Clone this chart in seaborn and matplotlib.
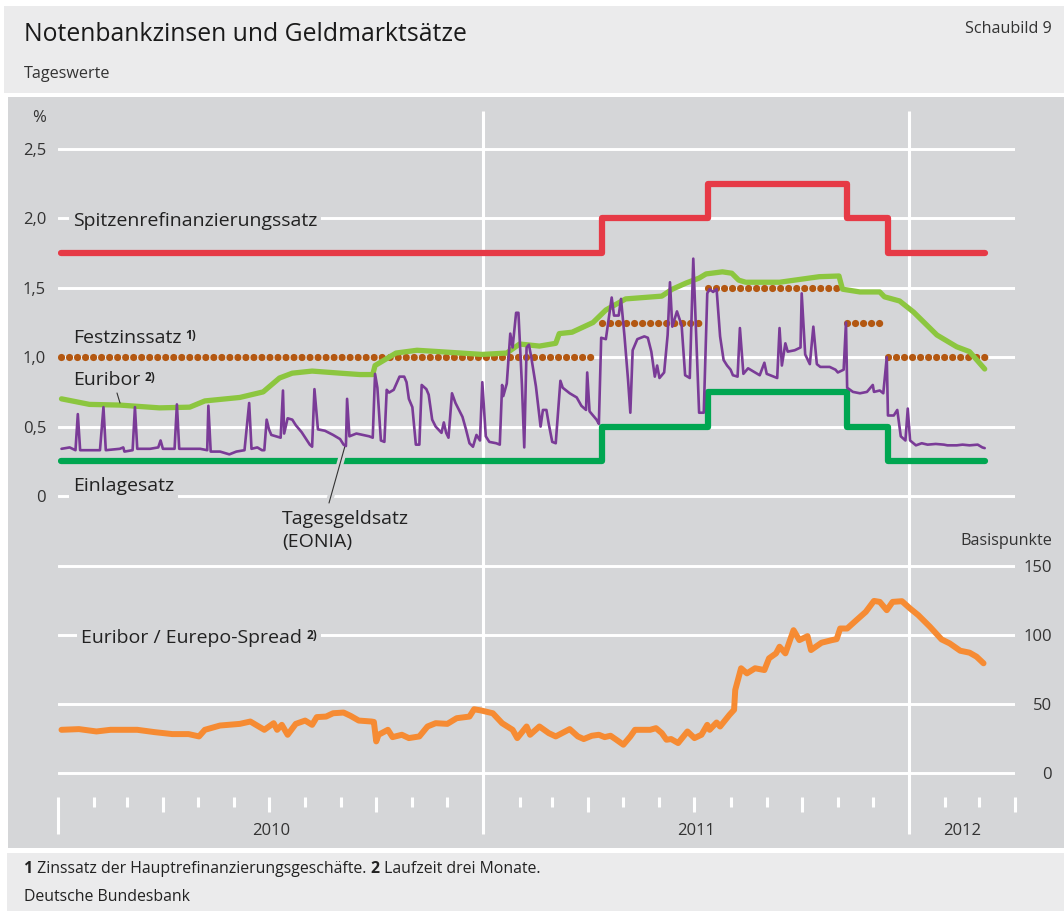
import pandas as pd
import seaborn as sns
import matplotlib.pyplot as plt
import matplotlib.dates as mdates
import matplotlib.patheffects as pe
from matplotlib.patches import Rectangle
from matplotlib.transforms import blended_transform_factory

# ECB policy rates (change dates, % p.a.)
policy_dates = ['2010-01-04', '2011-04-13', '2011-07-13', '2011-11-09', '2011-12-14', '2012-03-06']
spitzen = [1.75, 2.00, 2.25, 2.00, 1.75, 1.75]
einlage = [0.25, 0.50, 0.75, 0.50, 0.25, 0.25]
festzins = [1.00, 1.25, 1.50, 1.25, 1.00, 1.00]

# 3-month Euribor
euribor_dates = ['2010-01-04', '2010-01-28', '2010-02-23', '2010-03-29', '2010-04-24', '2010-05-07',
                 '2010-06-06', '2010-06-26', '2010-07-10', '2010-07-21', '2010-08-07', '2010-08-31',
                 '2010-09-17', '2010-09-28', '2010-09-30', '2010-10-18', '2010-11-05', '2010-11-24',
                 '2010-12-31', '2011-01-21', '2011-02-01', '2011-02-18', '2011-03-04', '2011-03-07',
                 '2011-03-18', '2011-04-05', '2011-04-16', '2011-05-03', '2011-06-03', '2011-06-12',
                 '2011-06-24', '2011-07-05', '2011-07-11', '2011-07-25', '2011-08-02', '2011-08-08',
                 '2011-08-14', '2011-09-12', '2011-09-29', '2011-10-16', '2011-11-02', '2011-11-05',
                 '2011-11-20', '2011-12-07', '2011-12-11', '2011-12-24', '2012-01-05', '2012-01-25',
                 '2012-02-11', '2012-02-22', '2012-03-06']
euribor = [0.70, 0.66, 0.655, 0.635, 0.64, 0.685,
           0.71, 0.75, 0.85, 0.885, 0.90, 0.885,
           0.875, 0.875, 0.94, 1.03, 1.05, 1.04,
           1.02, 1.03, 1.095, 1.08, 1.10, 1.17,
           1.18, 1.25, 1.34, 1.42, 1.44, 1.49,
           1.535, 1.57, 1.60, 1.615, 1.605, 1.555,
           1.54, 1.54, 1.56, 1.58, 1.585, 1.49,
           1.47, 1.47, 1.435, 1.405, 1.325, 1.16,
           1.075, 1.04, 0.915]

# EONIA overnight rate
eonia_dates = ['2010-01-04', '2010-01-11', '2010-01-16', '2010-01-18', '2010-01-20', '2010-02-06',
               '2010-02-09', '2010-02-11', '2010-02-23', '2010-02-26', '2010-02-27', '2010-03-06',
               '2010-03-08', '2010-03-10', '2010-03-21', '2010-03-28', '2010-03-30', '2010-04-01',
               '2010-04-11', '2010-04-13', '2010-04-15', '2010-05-03', '2010-05-09', '2010-05-10',
               '2010-05-12', '2010-05-20', '2010-05-28', '2010-06-03', '2010-06-10', '2010-06-14',
               '2010-06-16', '2010-06-21', '2010-06-25', '2010-06-27', '2010-06-29', '2010-07-01',
               '2010-07-03', '2010-07-07', '2010-07-11', '2010-07-13', '2010-07-14', '2010-07-17',
               '2010-07-21', '2010-07-24', '2010-07-29', '2010-08-05', '2010-08-07', '2010-08-09',
               '2010-08-12', '2010-08-18', '2010-08-25', '2010-08-31', '2010-09-03', '2010-09-05',
               '2010-09-06', '2010-09-08', '2010-09-14', '2010-09-25', '2010-09-28', '2010-09-30',
               '2010-10-02', '2010-10-05', '2010-10-08', '2010-10-10', '2010-10-12', '2010-10-16',
               '2010-10-21', '2010-10-25', '2010-10-27', '2010-10-29', '2010-11-01', '2010-11-04',
               '2010-11-07', '2010-11-09', '2010-11-13', '2010-11-15', '2010-11-18', '2010-11-21',
               '2010-11-26', '2010-11-28', '2010-11-30', '2010-12-02', '2010-12-05', '2010-12-08',
               '2010-12-14', '2010-12-17', '2010-12-20', '2010-12-23', '2010-12-26', '2010-12-29',
               '2010-12-31', '2011-01-03', '2011-01-06', '2011-01-12', '2011-01-15', '2011-01-17',
               '2011-01-18', '2011-01-21', '2011-01-24', '2011-01-26', '2011-01-29', '2011-01-31',
               '2011-02-03', '2011-02-05', '2011-02-07', '2011-02-09', '2011-02-11', '2011-02-15',
               '2011-02-19', '2011-02-21', '2011-02-24', '2011-02-26', '2011-03-01', '2011-03-04',
               '2011-03-08', '2011-03-10', '2011-03-16', '2011-03-22', '2011-03-26', '2011-03-30',
               '2011-03-31', '2011-04-02', '2011-04-08', '2011-04-10', '2011-04-12', '2011-04-16',
               '2011-04-21', '2011-04-23', '2011-04-27', '2011-04-29', '2011-05-02', '2011-05-05',
               '2011-05-07', '2011-05-09', '2011-05-13', '2011-05-19', '2011-05-22', '2011-05-25',
               '2011-05-28', '2011-05-30', '2011-06-01', '2011-06-05', '2011-06-08', '2011-06-10',
               '2011-06-12', '2011-06-16', '2011-06-20', '2011-06-23', '2011-06-27', '2011-06-30',
               '2011-07-03', '2011-07-05', '2011-07-09', '2011-07-12', '2011-07-14', '2011-07-17',
               '2011-07-20', '2011-07-23', '2011-07-26', '2011-07-29', '2011-08-01', '2011-08-03',
               '2011-08-07', '2011-08-09', '2011-08-12', '2011-08-16', '2011-08-20', '2011-08-26',
               '2011-08-30', '2011-09-01', '2011-09-10', '2011-09-12', '2011-09-14', '2011-09-17',
               '2011-09-19', '2011-09-25', '2011-09-30', '2011-10-01', '2011-10-04', '2011-10-08',
               '2011-10-11', '2011-10-14', '2011-10-17', '2011-10-25', '2011-10-30', '2011-11-01',
               '2011-11-06', '2011-11-08', '2011-11-09', '2011-11-14', '2011-11-20', '2011-11-26',
               '2011-12-01', '2011-12-02', '2011-12-07', '2011-12-10', '2011-12-13', '2011-12-14',
               '2011-12-19', '2011-12-22', '2011-12-25', '2011-12-29', '2011-12-31', '2012-01-02',
               '2012-01-07', '2012-01-12', '2012-01-17', '2012-01-24', '2012-01-31', '2012-02-03',
               '2012-02-11', '2012-02-16', '2012-02-22', '2012-02-29', '2012-03-04', '2012-03-06']
eonia = [0.34, 0.35, 0.33, 0.59, 0.33, 0.33,
         0.64, 0.33, 0.34, 0.35, 0.32, 0.33,
         0.64, 0.34, 0.34, 0.35, 0.40, 0.34,
         0.34, 0.66, 0.34, 0.34, 0.33, 0.65,
         0.32, 0.32, 0.30, 0.32, 0.33, 0.67,
         0.34, 0.35, 0.33, 0.33, 0.55, 0.48,
         0.44, 0.43, 0.42, 0.76, 0.45, 0.56,
         0.55, 0.51, 0.46, 0.37, 0.355, 0.77,
         0.48, 0.47, 0.44, 0.41, 0.37, 0.36,
         0.70, 0.43, 0.45, 0.43, 0.42, 0.88,
         0.78, 0.40, 0.39, 0.765, 0.745, 0.765,
         0.86, 0.86, 0.82, 0.70, 0.64, 0.37,
         0.37, 0.80, 0.77, 0.73, 0.55, 0.50,
         0.455, 0.53, 0.455, 0.42, 0.74, 0.67,
         0.57, 0.48, 0.38, 0.355, 0.44, 0.40,
         0.82, 0.43, 0.39, 0.38, 0.37, 0.80,
         0.72, 0.81, 1.17, 1.07, 1.32, 1.32,
         0.80, 0.35, 1.07, 1.09, 1.00, 0.79,
         0.50, 0.62, 0.62, 0.52, 0.39, 0.38,
         0.83, 0.78, 0.74, 0.71, 0.65, 0.62,
         0.89, 0.61, 0.55, 0.52, 1.14, 1.13,
         1.43, 1.30, 1.30, 1.42, 1.15, 0.84,
         0.60, 1.05, 1.13, 1.15, 1.14, 1.04,
         0.86, 0.94, 0.85, 0.89, 1.16, 1.54,
         1.22, 1.33, 1.23, 0.87, 0.85, 1.71,
         1.05, 0.60, 0.60, 1.46, 1.49, 1.47,
         1.49, 1.15, 0.98, 0.94, 0.91, 0.87,
         0.86, 1.21, 0.88, 0.92, 0.90, 0.87,
         0.96, 0.88, 0.85, 1.21, 0.94, 1.10,
         1.04, 1.05, 1.07, 1.46, 1.02, 0.95,
         1.22, 0.95, 0.93, 0.93, 0.91, 0.89,
         0.91, 1.25, 0.78, 0.75, 0.74, 0.75,
         0.80, 0.75, 0.76, 0.74, 1.00, 0.58,
         0.58, 0.62, 0.43, 0.40, 0.63, 0.40,
         0.365, 0.38, 0.37, 0.375, 0.37, 0.365,
         0.365, 0.37, 0.365, 0.37, 0.35, 0.345]

# Euribor/Eurepo spread (3 months), basis points
spread_dates = ['2010-01-04', '2010-01-19', '2010-02-03', '2010-02-15', '2010-03-10', '2010-03-25',
                '2010-04-09', '2010-04-23', '2010-05-02', '2010-05-07', '2010-05-20', '2010-06-06',
                '2010-06-15', '2010-06-27', '2010-07-05', '2010-07-08', '2010-07-12', '2010-07-17',
                '2010-07-24', '2010-08-01', '2010-08-07', '2010-08-11', '2010-08-19', '2010-08-25',
                '2010-09-03', '2010-09-09', '2010-09-16', '2010-09-27', '2010-09-29', '2010-10-01',
                '2010-10-03', '2010-10-11', '2010-10-15', '2010-10-23', '2010-10-29', '2010-11-07',
                '2010-11-14', '2010-11-21', '2010-12-01', '2010-12-09', '2010-12-20', '2010-12-24',
                '2010-12-30', '2011-01-09', '2011-01-17', '2011-01-26', '2011-01-30', '2011-02-07',
                '2011-02-10', '2011-02-18', '2011-02-26', '2011-03-04', '2011-03-16', '2011-03-23',
                '2011-03-28', '2011-04-04', '2011-04-10', '2011-04-15', '2011-04-20', '2011-04-25',
                '2011-05-01', '2011-05-07', '2011-05-11', '2011-05-24', '2011-05-29', '2011-06-03',
                '2011-06-07', '2011-06-11', '2011-06-17', '2011-06-25', '2011-07-01', '2011-07-07',
                '2011-07-12', '2011-07-14', '2011-07-20', '2011-07-23', '2011-07-31', '2011-08-04',
                '2011-08-05', '2011-08-10', '2011-08-15', '2011-08-22', '2011-08-30', '2011-09-03',
                '2011-09-09', '2011-09-12', '2011-09-17', '2011-09-24', '2011-09-29', '2011-10-06',
                '2011-10-09', '2011-10-18', '2011-10-27', '2011-10-31', '2011-11-03', '2011-11-09',
                '2011-11-17', '2011-11-25', '2011-12-02', '2011-12-07', '2011-12-13', '2011-12-18',
                '2011-12-26', '2012-01-02', '2012-01-09', '2012-01-19', '2012-01-29', '2012-02-05',
                '2012-02-14', '2012-02-22', '2012-02-28', '2012-03-05']
spread = [31.3, 31.8, 30.1, 31.3, 31.3, 29.6,
          28.2, 28.2, 26.5, 31.3, 34.4, 35.6,
          37.3, 31.3, 36.1, 31.3, 34.9, 27.7,
          35.6, 38.0, 34.9, 40.5, 40.9, 43.3,
          43.8, 41.4, 38.0, 37.3, 37.0, 22.9,
          27.7, 31.3, 26.0, 27.7, 25.3, 26.5,
          33.7, 36.1, 35.6, 39.7, 40.9, 46.2,
          45.3, 43.3, 36.1, 31.3, 25.3, 33.7,
          27.7, 33.7, 28.9, 26.5, 31.8, 26.5,
          24.6, 27.0, 27.7, 26.0, 27.0, 24.1,
          20.5, 26.5, 31.3, 31.3, 32.5, 28.9,
          24.1, 24.6, 21.7, 30.1, 25.3, 27.7,
          34.9, 31.3, 36.6, 33.7, 42.1, 45.8,
          60.2, 75.9, 72.2, 75.9, 74.6, 83.1,
          86.7, 91.5, 86.7, 103.5, 96.3, 99.2,
          89.1, 94.4, 96.3, 97.0, 104.7, 104.7,
          110.8, 116.8, 124.7, 124.0, 118.0, 124.0,
          124.5, 119.2, 114.4, 106.0, 96.8, 93.9,
          88.6, 87.2, 84.3, 79.5]

rate_ticks = [0, 0.5, 1.0, 1.5, 2.0, 2.5]
rate_labels = ['0', '0,5', '1,0', '1,5', '2,0', '2,5']
bp_ticks = [0, 50, 100, 150]
bp_labels = ['0', '50', '100', '150']
years = [2010, 2011, 2012]

PANEL = '#d5d6d8'
LIGHT = '#ebebec'
TXT = '#222222'
W, H = 1064, 915
X0, X1 = pd.Timestamp('2010-01-01'), pd.Timestamp('2012-04-01')
LEFT, RIGHT = 58, 1015

sns.set_style('white')
plt.rcParams['font.family'] = ['Open Sans', 'DejaVu Sans']

fig = plt.figure(figsize=(W / 100, H / 100), dpi=100)

# background axes in pixel units
axbg = fig.add_axes([0, 0, 1, 1], zorder=0)
axbg.set_xlim(0, W)
axbg.set_ylim(H, 0)
axbg.axis('off')
P = axbg.transData
for x0, y0, x1, y1, c in [(4, 6, W, 93, LIGHT), (8, 97, W, 848, PANEL), (7, 853, W, 911, LIGHT)]:
    axbg.add_patch(Rectangle((x0, y0), x1 - x0, y1 - y0, facecolor=c, edgecolor='none'))


def axes_pos(y_hi_px, y_lo_px, v_hi, v_lo, lim_lo, lim_hi):
    # place an axes so that v_lo/v_hi fall on the given pixel rows
    k = (y_lo_px - y_hi_px) / (v_hi - v_lo)
    top = y_hi_px - (lim_hi - v_hi) * k
    bot = y_lo_px + (v_lo - lim_lo) * k
    return [LEFT / W, 1 - bot / H, (RIGHT - LEFT) / W, (bot - top) / H]


ax1 = fig.add_axes(axes_pos(149, 496, 2.5, 0, -0.15, 2.6), zorder=1)
ax2 = fig.add_axes(axes_pos(566, 773, 150, 0, -10, 160), zorder=1)
for ax in (ax1, ax2):
    ax.patch.set_visible(False)
    for s in ax.spines.values():
        s.set_visible(False)
    ax.set_axisbelow(True)
    ax.grid(axis='y', color='white', lw=2.1)
    ax.grid(axis='x', visible=False)

ax1.set_ylim(-0.15, 2.6)
ax2.set_ylim(-10, 160)

# policy rates as steps
pd_dates = pd.to_datetime(policy_dates)
sns.lineplot(x=pd_dates, y=spitzen, ax=ax1, color='#e63a46', lw=4.5,
             drawstyle='steps-post', estimator=None, sort=False, zorder=2)
sns.lineplot(x=pd_dates, y=einlage, ax=ax1, color='#00a651', lw=4.5,
             drawstyle='steps-post', estimator=None, sort=False, zorder=2)
for i in range(len(festzins) - 1):
    end = pd_dates[i + 1] - pd.Timedelta(days=4) if i < len(festzins) - 2 else pd_dates[i + 1]
    sns.lineplot(x=[pd_dates[i], end], y=[festzins[i], festzins[i]], ax=ax1, color='#b35812',
                 lw=5.2, linestyle=(0, (0.01, 1.1)), dash_capstyle='round',
                 estimator=None, sort=False, zorder=2.2)

sns.lineplot(x=pd.to_datetime(euribor_dates), y=euribor, ax=ax1, color='#8cc63f', lw=3.8,
             estimator=None, sort=False, zorder=2.3)
sns.lineplot(x=pd.to_datetime(eonia_dates), y=eonia, ax=ax1, color='#7a3b97', lw=1.9,
             estimator=None, sort=False, zorder=2.8)
sns.lineplot(x=pd.to_datetime(spread_dates), y=spread, ax=ax2, color='#f68b33', lw=4.3,
             estimator=None, sort=False, zorder=2)

for ax in (ax1, ax2):
    ax.set_xlim(X0, X1)
    ax.set_xticks([])
    ax.set_xlabel('')
    ax.set_ylabel('')

ax1.set_yticks(rate_ticks, labels=rate_labels)
ax1.tick_params(axis='y', length=0, pad=8.6, labelsize=12, labelcolor='#333333')
ax2.yaxis.tick_right()
ax2.set_yticks(bp_ticks, labels=bp_labels, ha='right')
ax2.tick_params(axis='y', length=0, pad=26.6, labelsize=12, labelcolor='#333333')

# year lines and month ticks
T = blended_transform_factory(ax1.transData, P)
for y in years[1:]:
    d = mdates.date2num(pd.Timestamp(f'{y}-01-01'))
    axbg.plot([d, d], [111, 834], transform=T, color='white', lw=2.2, solid_capstyle='butt')
for m in pd.date_range(X0, X1, freq='MS'):
    if m.month == 1 and m.year > 2010:
        continue
    d = mdates.date2num(m)
    bottom = 834 if m == X0 else (812 if m.month in (1, 4, 7, 10) else 807)
    axbg.plot([d, d], [797, bottom], transform=T, color='white', lw=2.2, solid_capstyle='butt')
for y in years:
    start = pd.Timestamp(f'{y}-01-01')
    end = min(pd.Timestamp(f'{y + 1}-01-01'), X1)
    mid = mdates.date2num(start + (end - start) / 2)
    axbg.text(mid, 835, str(y), transform=T, ha='center', va='baseline', fontsize=12, color='#333333')

# header and footer
axbg.text(24, 41, 'Notenbankzinsen und Geldmarktsätze', fontsize=17.8, color='#1a1a1a', va='baseline')
axbg.text(1052, 33, 'Schaubild 9', fontsize=11.6, color='#333333', ha='right', va='baseline')
axbg.text(24, 78, 'Tageswerte', fontsize=11.6, color='#333333', va='baseline')
f1 = axbg.text(24, 877, '1', fontsize=11.4, fontweight='bold', color=TXT, va='bottom')
f2 = axbg.annotate(' Zinssatz der Hauptrefinanzierungsgeschäfte. ', xy=(1, 0), xycoords=f1,
                   fontsize=11.4, color=TXT, va='bottom')
f3 = axbg.annotate('2', xy=(1, 0), xycoords=f2, fontsize=11.4, fontweight='bold', color=TXT, va='bottom')
axbg.annotate(' Laufzeit drei Monate.', xy=(1, 0), xycoords=f3, fontsize=11.4, color=TXT, va='bottom')
axbg.text(24, 905, 'Deutsche Bundesbank', fontsize=11.4, color=TXT, va='bottom')
axbg.text(46, 122, '%', fontsize=12, color='#333333', ha='right', va='baseline')
axbg.text(1052, 545, 'Basispunkte', fontsize=11.6, color='#333333', ha='right', va='baseline')

# series labels (gray boxes cut the grid lines)
box = dict(facecolor=PANEL, edgecolor='none', pad=3)
lab = dict(fontsize=14, color=TXT, va='baseline', transform=P, zorder=1.5, bbox=box)
sup = dict(fontsize=8.5, fontweight='bold', color=TXT, va='top', zorder=1.5,
           textcoords='offset points', xytext=(3, 0))
ax1.text(73, 226, 'Spitzenrefinanzierungssatz', **lab)
t = ax1.text(73, 343, 'Festzinssatz', **lab)
ax1.annotate('1)', xy=(1, 1), xycoords=t, **sup)
t = ax1.text(73, 385, 'Euribor', **lab)
ax1.annotate('2)', xy=(1, 1), xycoords=t, **sup)
ax1.text(73, 491, 'Einlagesatz', **lab)
ax1.text(282, 524, 'Tagesgeldsatz', **lab)
ax1.text(282, 547, '(EONIA)', **lab)
t = ax2.text(81, 643, 'Euribor / Eurepo-Spread', **lab)
ax2.annotate('2)', xy=(1, 1), xycoords=t, bbox=box, **sup)

# leader lines
ax1.plot([117, 120], [393, 403], transform=P, color='#333333', lw=0.8, zorder=3, clip_on=False)
ax1.plot([329, 345], [503, 446], transform=P, color='#333333', lw=0.8, zorder=2.5, clip_on=False,
         path_effects=[pe.Stroke(linewidth=5, foreground=PANEL), pe.Normal()])

fig.savefig('out.png', dpi=100)
